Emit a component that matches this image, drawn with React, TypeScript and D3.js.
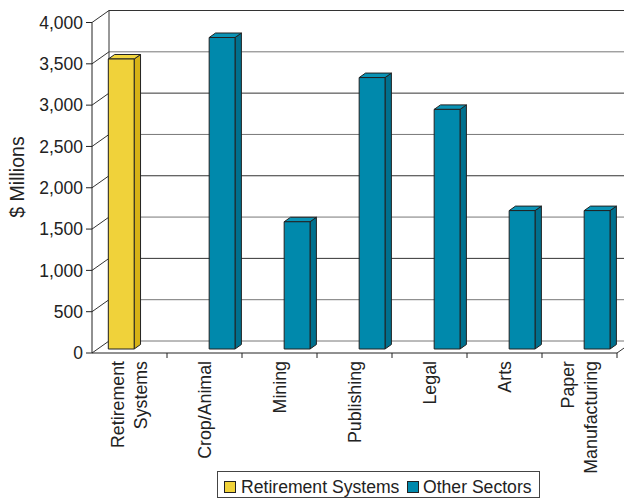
import React from "react";
import * as d3 from "d3";

const categories = ["Retirement Systems", "Crop/Animal", "Mining", "Publishing", "Legal", "Arts", "Paper Manufacturing"];
const categoryLines = [["Retirement", "Systems"], ["Crop/Animal"], ["Mining"], ["Publishing"], ["Legal"], ["Arts"], ["Paper", "Manufacturing"]];
const seriesNames = ["Retirement Systems", "Other Sectors"];
const retirementValues: (number | null)[] = [3510, null, null, null, null, null, null];
const otherValues: (number | null)[] = [null, 3770, 1540, 3285, 2900, 1675, 1675];
const yTicks = [0, 500, 1000, 1500, 2000, 2500, 3000, 3500, 4000];

const W = 624, H = 500;
const X0 = 92, X1 = 617;
const DX = 17, DY = 12;
const FONT = "'Liberation Sans', Arial, Helvetica, sans-serif";

const colors = [
  { front: "#F0D23A", side: "#D6B216", top: "#F2D640" },
  { front: "#0089AC", side: "#00708E", top: "#0A93B5" },
];

export default function App() {
  const y = d3.scaleLinear().domain([0, 4000]).range([353, 22.5]);
  const x0 = d3.scaleBand<string>().domain(categories).range([X0, X1]).padding(0);
  const x1 = d3.scaleBand<string>().domain(seriesNames).range([-1, x0.bandwidth() - 1]).paddingInner(0).paddingOuter(0.45);
  const z0 = 4 / 12, z1 = 8.5 / 12;
  const fmt = d3.format(",");

  const bars: React.ReactNode[] = [];
  const series = [retirementValues, otherValues];
  categories.forEach((c, i) => {
    series.forEach((vals, s) => {
      const v = vals[i];
      if (v == null) return;
      const fx = (x0(c) as number) + (x1(seriesNames[s]) as number);
      const w = x1.bandwidth();
      const dx0 = DX * z0, dy0 = DY * z0, dx1 = DX * z1, dy1 = DY * z1;
      const yv = y(v), yb = y(0);
      const col = colors[s];
      const pts = (a: number[][]) => a.map((p) => p.join(",")).join(" ");
      bars.push(
        <g key={`${c}-${s}`} stroke="#222" strokeWidth={1} strokeLinejoin="round">
          <polygon fill={col.side} points={pts([[fx + w + dx0, yv - dy0], [fx + w + dx1, yv - dy1], [fx + w + dx1, yb - dy1], [fx + w + dx0, yb - dy0]])} />
          <polygon fill={col.top} points={pts([[fx + dx0, yv - dy0], [fx + w + dx0, yv - dy0], [fx + w + dx1, yv - dy1], [fx + dx1, yv - dy1]])} />
          <rect x={fx + dx0} y={yv - dy0} width={w} height={yb - yv} fill={col.front} />
        </g>
      );
    });
  });

  return (
    <svg width={W} height={H} style={{ position: "absolute", left: 0, top: 0, display: "block" }} fontFamily={FONT}>
      <rect width={W} height={H} fill="#fff" />
      {yTicks.map((t) => (
        <line key={`g${t}`} x1={X0 + DX} x2={X1 + DX} y1={y(t) - DY} y2={y(t) - DY} stroke={t % 1000 === 0 && t !== 0 ? "#333" : "#777"} strokeWidth={1} />
      ))}
      <line x1={X0 + DX} x2={X0 + DX} y1={y(4000) - DY} y2={y(0) - DY} stroke="#333" />
      {yTicks.map((t) => (
        <line key={`d${t}`} x1={X0} y1={y(t)} x2={X0 + DX} y2={y(t) - DY} stroke="#333" />
      ))}
      <line x1={X1} y1={y(0)} x2={X1 + DX} y2={y(0) - DY} stroke="#333" />
      {bars}
      <line x1={X0} x2={X0} y1={y(4000)} y2={y(0)} stroke="#222" />
      <line x1={X0} x2={X1} y1={y(0)} y2={y(0)} stroke="#222" />
      {yTicks.map((t) => (
        <g key={`t${t}`}>
          <line x1={X0 - 6} x2={X0} y1={y(t)} y2={y(t)} stroke="#222" />
          <text x={X0 - 9} y={y(t)} dy="0.35em" textAnchor="end" fontSize={17.5} fill="#222">{fmt(t)}</text>
        </g>
      ))}
      {categories.map((c, i) => (
        <line key={`ct${i}`} x1={(x0(c) as number) + x0.bandwidth()} x2={(x0(c) as number) + x0.bandwidth()} y1={y(0)} y2={y(0) + 5} stroke="#222" />
      ))}
      {categories.map((c, i) => {
        const cx = (x0(c) as number) + x0.bandwidth() / 2;
        const lines = categoryLines[i];
        const n = lines.length;
        return lines.map((ln, k) => {
          const lx = cx + (k - (n - 1) / 2) * 23;
          return (
            <text key={`cl${i}-${k}`} transform={`translate(${lx + 6},${361}) rotate(-90)`} textAnchor="end" fontSize={17.8} fill="#222">{ln}</text>
          );
        });
      })}
      <text transform={`translate(24,177) rotate(-90)`} textAnchor="middle" fontSize={19.5} fill="#222">$ Millions</text>
      <rect x={217.5} y={471.5} width={322} height={26} fill="#fff" stroke="#444" />
      <rect x={224.5} y={481.5} width={11} height={11} fill={colors[0].front} stroke="#222" />
      <text x={241} y={493} fontSize={17.6} fill="#222">{seriesNames[0]}</text>
      <rect x={407.5} y={481.5} width={11} height={11} fill={colors[1].front} stroke="#222" />
      <text x={423} y={493} fontSize={17.6} fill="#222">{seriesNames[1]}</text>
    </svg>
  );
}
